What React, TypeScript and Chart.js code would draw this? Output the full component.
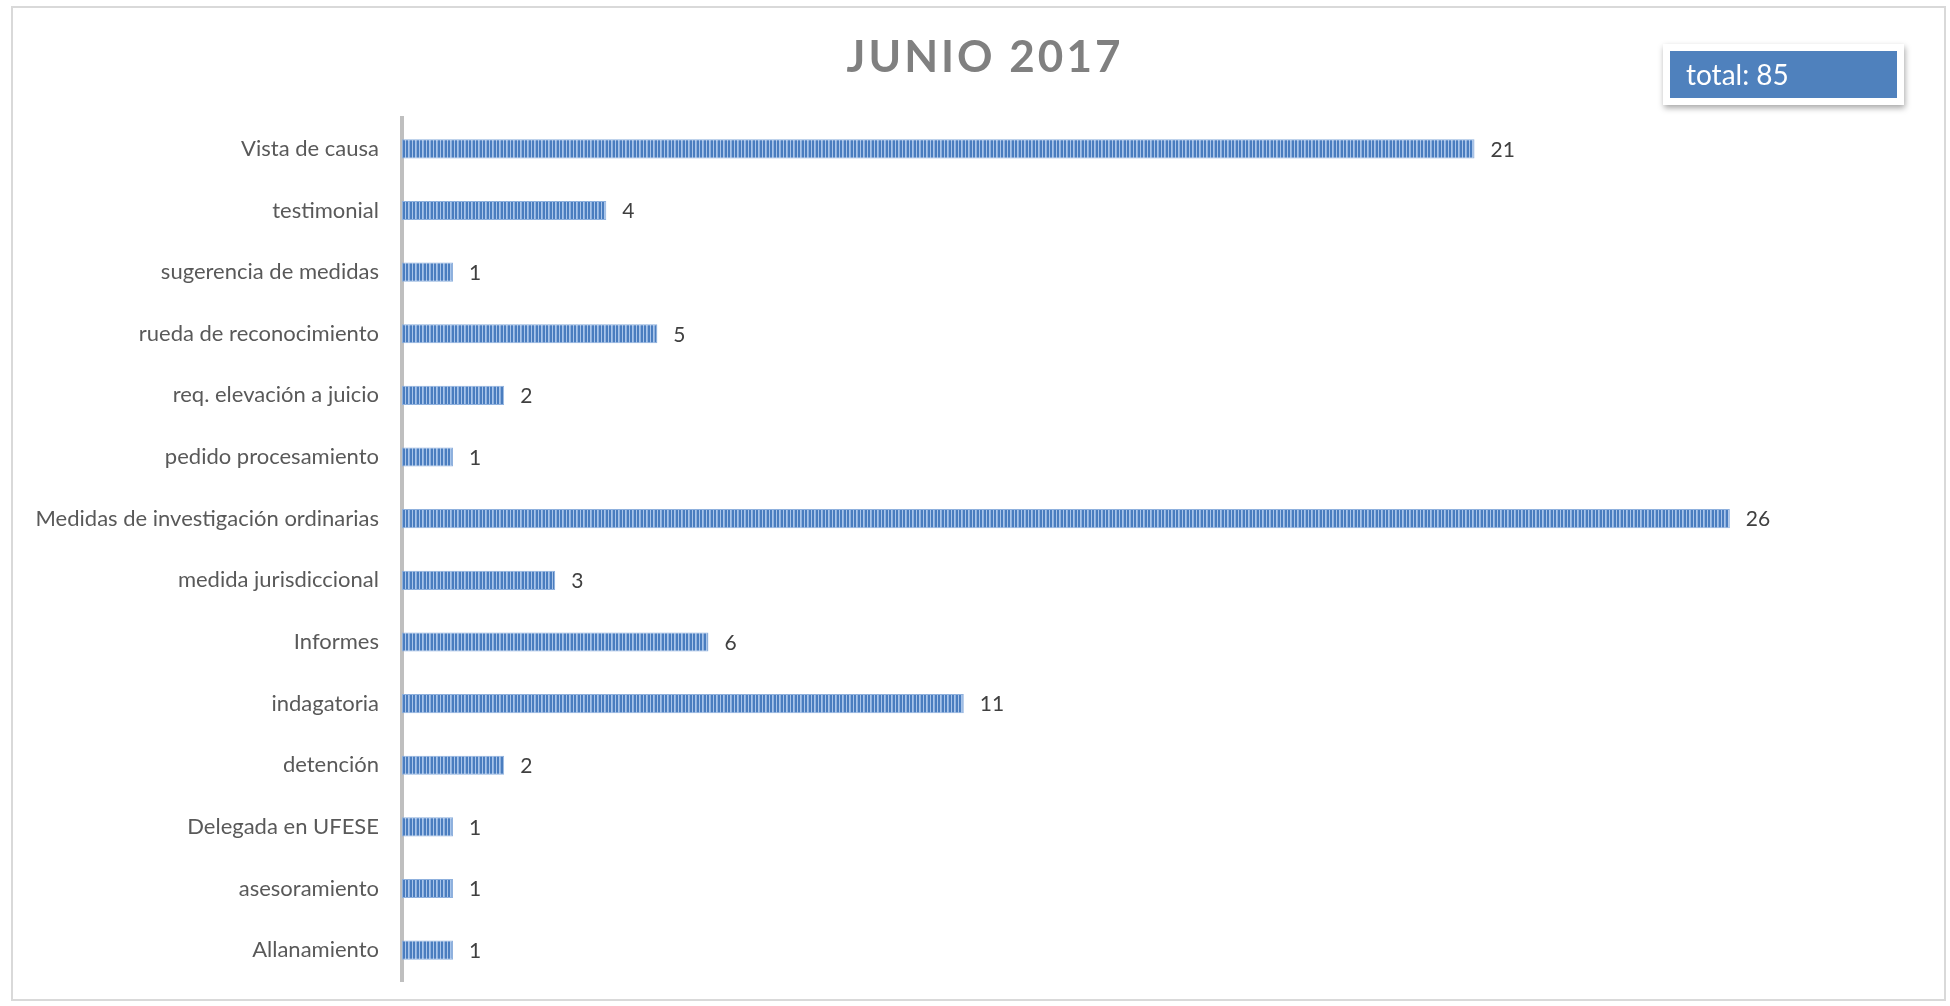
import React, { useEffect, useRef } from "react";
import { Chart, registerables } from "chart.js";

Chart.register(...registerables);

const TITLE = "JUNIO 2017";
const categories = [
  "Vista de causa",
  "testimonial",
  "sugerencia de medidas",
  "rueda de reconocimiento",
  "req. elevación a juicio",
  "pedido procesamiento",
  "Medidas de investigación ordinarias",
  "medida jurisdiccional",
  "Informes",
  "indagatoria",
  "detención",
  "Delegada en UFESE",
  "asesoramiento",
  "Allanamiento",
];
const values = [21, 4, 1, 5, 2, 1, 26, 3, 6, 11, 2, 1, 1, 1];
const totalLabel = "total: " + values.reduce((a, b) => a + b, 0);

const W = 1950;
const H = 1006;

function makePattern(ctx: CanvasRenderingContext2D): CanvasPattern | string {
  const c = document.createElement("canvas");
  c.width = 7;
  c.height = 4;
  const p = c.getContext("2d");
  if (!p) return "#4f81bd";
  const cols = ["#4a7dbf", "#4a7dbf", "#a9c5ea", "#8db0de", "#4a7dbf", "#4a7dbf", "#a9c5ea"];
  cols.forEach((col, i) => {
    p.fillStyle = col;
    p.fillRect(i, 0, 1, 4);
  });
  return ctx.createPattern(c, "repeat") || "#4f81bd";
}

const decorPlugin = {
  id: "decor",
  beforeDraw(chart: any) {
    const ctx = chart.ctx as CanvasRenderingContext2D;
    ctx.save();
    ctx.fillStyle = "#ffffff";
    ctx.fillRect(0, 0, W, H);
    ctx.strokeStyle = "#d9d9d9";
    ctx.lineWidth = 2;
    ctx.strokeRect(12, 7, 1933, 993);
    ctx.restore();
  },
  afterDraw(chart: any) {
    const ctx = chart.ctx as CanvasRenderingContext2D;
    ctx.save();
    // title
    ctx.font = "bold 44px Lato";
    (ctx as any).letterSpacing = "3px";
    ctx.fillStyle = "#808080";
    ctx.textAlign = "center";
    ctx.textBaseline = "alphabetic";
    ctx.fillText(TITLE, 985, 72);
    (ctx as any).letterSpacing = "0px";

    // total box
    ctx.save();
    ctx.shadowColor = "rgba(0,0,0,0.35)";
    ctx.shadowBlur = 6;
    ctx.shadowOffsetX = 1;
    ctx.shadowOffsetY = 3;
    ctx.fillStyle = "#ffffff";
    ctx.fillRect(1663, 44, 241, 61);
    ctx.restore();
    ctx.fillStyle = "#4f81bd";
    ctx.fillRect(1670, 51, 227, 47);
    ctx.fillStyle = "#ffffff";
    ctx.font = "28px Lato";
    ctx.textAlign = "left";
    ctx.fillText(totalLabel, 1686, 85);

    // value labels
    const meta = chart.getDatasetMeta(0);
    ctx.font = "21px Lato";
    ctx.fillStyle = "#404040";
    ctx.textBaseline = "middle";
    meta.data.forEach((bar: any, i: number) => {
      ctx.fillText(String(values[i]), bar.x + 16, bar.y + 1);
    });
    ctx.restore();
  },
};

export default function App() {
  const ref = useRef<HTMLCanvasElement | null>(null);
  useEffect(() => {
    const canvas = ref.current;
    if (!canvas) return;
    const ctx = canvas.getContext("2d");
    if (!ctx) return;
    const pattern = makePattern(ctx);
    const chart = new Chart(canvas, {
      type: "bar",
      data: {
        labels: categories,
        datasets: [
          {
            data: values,
            backgroundColor: pattern as any,
            borderColor: "#8fb1de",
            borderWidth: 1,
            borderSkipped: false,
            categoryPercentage: 1,
            barPercentage: 0.31,
          },
        ],
      },
      options: {
        indexAxis: "y",
        responsive: false,
        animation: false,
        devicePixelRatio: 1,
        layout: { padding: { left: 0, right: 118, top: 118, bottom: 25 } },
        plugins: {
          legend: { display: false },
          title: { display: false },
          tooltip: { enabled: false },
        },
        scales: {
          x: { display: false, min: 0, max: 28 },
          y: {
            afterFit(scale: any) {
              scale.width = 402;
              scale.paddingTop = 0;
              scale.paddingBottom = 0;
            },
            grid: { display: false, drawTicks: false },
            border: { display: true, color: "#bfbfbf", width: 4 },
            ticks: {
              padding: 23,
              color: "#595959",
              font: { family: "Lato", size: 22 },
            },
          },
        },
      },
      plugins: [decorPlugin],
    });
    return () => chart.destroy();
  }, []);
  return (
    <div style={{ position: "absolute", left: 0, top: 0, width: W, height: H }}>
      <canvas ref={ref} width={W} height={H} style={{ width: W, height: H, display: "block" }} />
    </div>
  );
}
